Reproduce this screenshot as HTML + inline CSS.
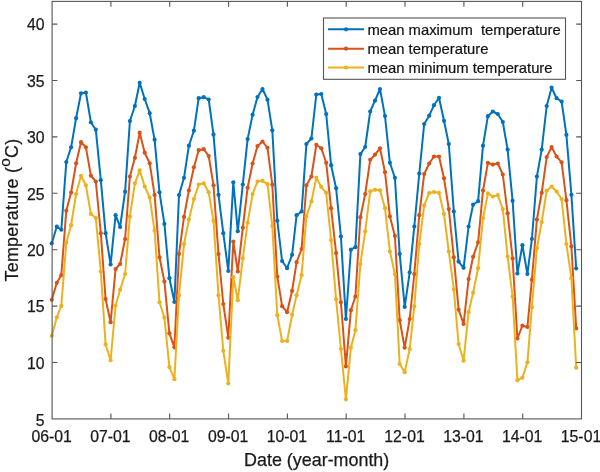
<!DOCTYPE html><html><head><meta charset="utf-8"><title>Temperature chart</title><style>html,body{margin:0;padding:0;background:#fff}</style></head><body><svg width="600" height="472" viewBox="0 0 600 472" style="display:block;font-family:'Liberation Sans',Arial,sans-serif">
<rect width="600" height="472" fill="#fff"/>
<g>
<polyline fill="none" stroke="#0072BD" stroke-width="2" stroke-linejoin="round" points="51.8,243.3 56.8,226.5 61.3,229.7 66.3,162.0 71.1,147.3 76.1,118.2 81.0,93.3 85.9,92.5 90.9,122.3 95.8,129.7 100.8,180.2 105.6,233.2 110.6,264.5 115.6,215.2 120.1,227.0 125.1,191.7 129.9,121.0 134.9,106.0 139.7,82.8 144.7,99.0 149.7,113.2 154.6,139.7 159.5,192.3 164.4,223.9 169.4,278.2 174.4,302.0 179.0,195.1 184.0,177.8 188.9,145.7 193.9,130.7 198.7,98.2 203.7,97.2 208.7,99.5 213.5,134.6 218.5,194.8 223.3,233.2 228.3,271.0 233.3,182.3 237.8,231.2 242.8,184.5 247.6,139.1 252.6,114.7 257.5,97.0 262.5,89.0 267.5,99.7 272.3,130.3 277.3,220.7 282.1,261.0 287.1,268.2 292.1,254.8 296.6,215.2 301.6,211.5 306.4,144.0 311.4,138.5 316.3,94.5 321.3,94.0 326.2,114.0 331.1,165.2 336.1,188.2 340.9,236.5 345.9,319.0 350.9,249.7 355.4,247.2 360.4,154.1 365.2,147.0 370.2,111.5 375.0,100.7 380.0,89.0 385.0,116.1 389.9,162.8 394.9,177.8 399.7,254.0 404.7,306.9 409.7,272.3 414.3,226.5 419.3,173.5 424.2,124.0 429.2,115.7 434.0,105.2 439.0,97.8 444.0,120.8 448.8,144.0 453.8,211.5 458.6,261.6 463.6,267.8 468.6,226.5 473.1,204.7 478.1,201.2 483.0,145.7 487.9,116.2 492.8,111.5 497.8,114.0 502.8,122.0 507.6,149.6 512.6,200.8 517.4,273.5 522.4,245.2 527.4,274.0 531.9,239.0 536.9,176.5 541.7,149.6 546.7,106.0 551.6,87.7 556.6,98.2 561.6,101.5 566.4,134.8 571.4,194.8 576.2,268.5"/><g fill="#0072BD"><circle cx="51.8" cy="243.3" r="2.1"/><circle cx="56.8" cy="226.5" r="2.1"/><circle cx="61.3" cy="229.7" r="2.1"/><circle cx="66.3" cy="162.0" r="2.1"/><circle cx="71.1" cy="147.3" r="2.1"/><circle cx="76.1" cy="118.2" r="2.1"/><circle cx="81.0" cy="93.3" r="2.1"/><circle cx="85.9" cy="92.5" r="2.1"/><circle cx="90.9" cy="122.3" r="2.1"/><circle cx="95.8" cy="129.7" r="2.1"/><circle cx="100.8" cy="180.2" r="2.1"/><circle cx="105.6" cy="233.2" r="2.1"/><circle cx="110.6" cy="264.5" r="2.1"/><circle cx="115.6" cy="215.2" r="2.1"/><circle cx="120.1" cy="227.0" r="2.1"/><circle cx="125.1" cy="191.7" r="2.1"/><circle cx="129.9" cy="121.0" r="2.1"/><circle cx="134.9" cy="106.0" r="2.1"/><circle cx="139.7" cy="82.8" r="2.1"/><circle cx="144.7" cy="99.0" r="2.1"/><circle cx="149.7" cy="113.2" r="2.1"/><circle cx="154.6" cy="139.7" r="2.1"/><circle cx="159.5" cy="192.3" r="2.1"/><circle cx="164.4" cy="223.9" r="2.1"/><circle cx="169.4" cy="278.2" r="2.1"/><circle cx="174.4" cy="302.0" r="2.1"/><circle cx="179.0" cy="195.1" r="2.1"/><circle cx="184.0" cy="177.8" r="2.1"/><circle cx="188.9" cy="145.7" r="2.1"/><circle cx="193.9" cy="130.7" r="2.1"/><circle cx="198.7" cy="98.2" r="2.1"/><circle cx="203.7" cy="97.2" r="2.1"/><circle cx="208.7" cy="99.5" r="2.1"/><circle cx="213.5" cy="134.6" r="2.1"/><circle cx="218.5" cy="194.8" r="2.1"/><circle cx="223.3" cy="233.2" r="2.1"/><circle cx="228.3" cy="271.0" r="2.1"/><circle cx="233.3" cy="182.3" r="2.1"/><circle cx="237.8" cy="231.2" r="2.1"/><circle cx="242.8" cy="184.5" r="2.1"/><circle cx="247.6" cy="139.1" r="2.1"/><circle cx="252.6" cy="114.7" r="2.1"/><circle cx="257.5" cy="97.0" r="2.1"/><circle cx="262.5" cy="89.0" r="2.1"/><circle cx="267.5" cy="99.7" r="2.1"/><circle cx="272.3" cy="130.3" r="2.1"/><circle cx="277.3" cy="220.7" r="2.1"/><circle cx="282.1" cy="261.0" r="2.1"/><circle cx="287.1" cy="268.2" r="2.1"/><circle cx="292.1" cy="254.8" r="2.1"/><circle cx="296.6" cy="215.2" r="2.1"/><circle cx="301.6" cy="211.5" r="2.1"/><circle cx="306.4" cy="144.0" r="2.1"/><circle cx="311.4" cy="138.5" r="2.1"/><circle cx="316.3" cy="94.5" r="2.1"/><circle cx="321.3" cy="94.0" r="2.1"/><circle cx="326.2" cy="114.0" r="2.1"/><circle cx="331.1" cy="165.2" r="2.1"/><circle cx="336.1" cy="188.2" r="2.1"/><circle cx="340.9" cy="236.5" r="2.1"/><circle cx="345.9" cy="319.0" r="2.1"/><circle cx="350.9" cy="249.7" r="2.1"/><circle cx="355.4" cy="247.2" r="2.1"/><circle cx="360.4" cy="154.1" r="2.1"/><circle cx="365.2" cy="147.0" r="2.1"/><circle cx="370.2" cy="111.5" r="2.1"/><circle cx="375.0" cy="100.7" r="2.1"/><circle cx="380.0" cy="89.0" r="2.1"/><circle cx="385.0" cy="116.1" r="2.1"/><circle cx="389.9" cy="162.8" r="2.1"/><circle cx="394.9" cy="177.8" r="2.1"/><circle cx="399.7" cy="254.0" r="2.1"/><circle cx="404.7" cy="306.9" r="2.1"/><circle cx="409.7" cy="272.3" r="2.1"/><circle cx="414.3" cy="226.5" r="2.1"/><circle cx="419.3" cy="173.5" r="2.1"/><circle cx="424.2" cy="124.0" r="2.1"/><circle cx="429.2" cy="115.7" r="2.1"/><circle cx="434.0" cy="105.2" r="2.1"/><circle cx="439.0" cy="97.8" r="2.1"/><circle cx="444.0" cy="120.8" r="2.1"/><circle cx="448.8" cy="144.0" r="2.1"/><circle cx="453.8" cy="211.5" r="2.1"/><circle cx="458.6" cy="261.6" r="2.1"/><circle cx="463.6" cy="267.8" r="2.1"/><circle cx="468.6" cy="226.5" r="2.1"/><circle cx="473.1" cy="204.7" r="2.1"/><circle cx="478.1" cy="201.2" r="2.1"/><circle cx="483.0" cy="145.7" r="2.1"/><circle cx="487.9" cy="116.2" r="2.1"/><circle cx="492.8" cy="111.5" r="2.1"/><circle cx="497.8" cy="114.0" r="2.1"/><circle cx="502.8" cy="122.0" r="2.1"/><circle cx="507.6" cy="149.6" r="2.1"/><circle cx="512.6" cy="200.8" r="2.1"/><circle cx="517.4" cy="273.5" r="2.1"/><circle cx="522.4" cy="245.2" r="2.1"/><circle cx="527.4" cy="274.0" r="2.1"/><circle cx="531.9" cy="239.0" r="2.1"/><circle cx="536.9" cy="176.5" r="2.1"/><circle cx="541.7" cy="149.6" r="2.1"/><circle cx="546.7" cy="106.0" r="2.1"/><circle cx="551.6" cy="87.7" r="2.1"/><circle cx="556.6" cy="98.2" r="2.1"/><circle cx="561.6" cy="101.5" r="2.1"/><circle cx="566.4" cy="134.8" r="2.1"/><circle cx="571.4" cy="194.8" r="2.1"/><circle cx="576.2" cy="268.5" r="2.1"/></g>
<polyline fill="none" stroke="#D95319" stroke-width="2" stroke-linejoin="round" points="51.8,299.8 56.8,282.8 61.3,275.2 66.3,210.7 71.1,192.5 76.1,163.3 81.0,142.2 85.9,147.3 90.9,175.7 95.8,181.5 100.8,233.2 105.6,299.0 110.6,322.2 115.6,269.0 120.1,264.0 125.1,239.0 129.9,176.5 134.9,157.8 139.7,132.7 144.7,152.7 149.7,163.3 154.6,194.9 159.5,257.3 164.4,281.5 169.4,333.3 174.4,347.3 179.0,253.9 184.0,216.9 188.9,190.4 193.9,167.3 198.7,150.2 203.7,149.2 208.7,156.0 213.5,185.3 218.5,254.0 223.3,304.0 228.3,337.7 233.3,241.5 237.8,271.5 242.8,227.7 247.6,187.8 252.6,163.5 257.5,146.1 262.5,141.5 267.5,147.8 272.3,184.7 277.3,276.6 282.1,306.2 287.1,312.2 292.1,290.8 296.6,262.2 301.6,249.0 306.4,185.3 311.4,176.5 316.3,144.8 321.3,148.3 326.2,162.8 331.1,208.2 336.1,253.0 340.9,302.3 345.9,366.4 350.9,310.2 355.4,296.5 360.4,217.2 365.2,194.0 370.2,159.8 375.0,154.7 380.0,148.3 385.0,172.2 389.9,216.4 394.9,235.9 399.7,320.2 404.7,347.7 409.7,319.0 414.3,274.0 419.3,215.2 424.2,174.0 429.2,163.5 434.0,156.5 439.0,156.5 444.0,178.3 448.8,209.0 453.8,257.3 458.6,309.7 463.6,323.9 468.6,279.0 473.1,256.8 478.1,242.3 483.0,190.6 487.9,162.8 492.8,164.6 497.8,163.5 502.8,174.5 507.6,213.3 512.6,258.5 517.4,338.5 522.4,325.7 527.4,327.0 531.9,279.7 536.9,219.5 541.7,192.8 546.7,157.1 551.6,147.0 556.6,156.5 561.6,162.3 566.4,200.2 571.4,246.4 576.2,328.4"/><g fill="#D95319"><circle cx="51.8" cy="299.8" r="2.1"/><circle cx="56.8" cy="282.8" r="2.1"/><circle cx="61.3" cy="275.2" r="2.1"/><circle cx="66.3" cy="210.7" r="2.1"/><circle cx="71.1" cy="192.5" r="2.1"/><circle cx="76.1" cy="163.3" r="2.1"/><circle cx="81.0" cy="142.2" r="2.1"/><circle cx="85.9" cy="147.3" r="2.1"/><circle cx="90.9" cy="175.7" r="2.1"/><circle cx="95.8" cy="181.5" r="2.1"/><circle cx="100.8" cy="233.2" r="2.1"/><circle cx="105.6" cy="299.0" r="2.1"/><circle cx="110.6" cy="322.2" r="2.1"/><circle cx="115.6" cy="269.0" r="2.1"/><circle cx="120.1" cy="264.0" r="2.1"/><circle cx="125.1" cy="239.0" r="2.1"/><circle cx="129.9" cy="176.5" r="2.1"/><circle cx="134.9" cy="157.8" r="2.1"/><circle cx="139.7" cy="132.7" r="2.1"/><circle cx="144.7" cy="152.7" r="2.1"/><circle cx="149.7" cy="163.3" r="2.1"/><circle cx="154.6" cy="194.9" r="2.1"/><circle cx="159.5" cy="257.3" r="2.1"/><circle cx="164.4" cy="281.5" r="2.1"/><circle cx="169.4" cy="333.3" r="2.1"/><circle cx="174.4" cy="347.3" r="2.1"/><circle cx="179.0" cy="253.9" r="2.1"/><circle cx="184.0" cy="216.9" r="2.1"/><circle cx="188.9" cy="190.4" r="2.1"/><circle cx="193.9" cy="167.3" r="2.1"/><circle cx="198.7" cy="150.2" r="2.1"/><circle cx="203.7" cy="149.2" r="2.1"/><circle cx="208.7" cy="156.0" r="2.1"/><circle cx="213.5" cy="185.3" r="2.1"/><circle cx="218.5" cy="254.0" r="2.1"/><circle cx="223.3" cy="304.0" r="2.1"/><circle cx="228.3" cy="337.7" r="2.1"/><circle cx="233.3" cy="241.5" r="2.1"/><circle cx="237.8" cy="271.5" r="2.1"/><circle cx="242.8" cy="227.7" r="2.1"/><circle cx="247.6" cy="187.8" r="2.1"/><circle cx="252.6" cy="163.5" r="2.1"/><circle cx="257.5" cy="146.1" r="2.1"/><circle cx="262.5" cy="141.5" r="2.1"/><circle cx="267.5" cy="147.8" r="2.1"/><circle cx="272.3" cy="184.7" r="2.1"/><circle cx="277.3" cy="276.6" r="2.1"/><circle cx="282.1" cy="306.2" r="2.1"/><circle cx="287.1" cy="312.2" r="2.1"/><circle cx="292.1" cy="290.8" r="2.1"/><circle cx="296.6" cy="262.2" r="2.1"/><circle cx="301.6" cy="249.0" r="2.1"/><circle cx="306.4" cy="185.3" r="2.1"/><circle cx="311.4" cy="176.5" r="2.1"/><circle cx="316.3" cy="144.8" r="2.1"/><circle cx="321.3" cy="148.3" r="2.1"/><circle cx="326.2" cy="162.8" r="2.1"/><circle cx="331.1" cy="208.2" r="2.1"/><circle cx="336.1" cy="253.0" r="2.1"/><circle cx="340.9" cy="302.3" r="2.1"/><circle cx="345.9" cy="366.4" r="2.1"/><circle cx="350.9" cy="310.2" r="2.1"/><circle cx="355.4" cy="296.5" r="2.1"/><circle cx="360.4" cy="217.2" r="2.1"/><circle cx="365.2" cy="194.0" r="2.1"/><circle cx="370.2" cy="159.8" r="2.1"/><circle cx="375.0" cy="154.7" r="2.1"/><circle cx="380.0" cy="148.3" r="2.1"/><circle cx="385.0" cy="172.2" r="2.1"/><circle cx="389.9" cy="216.4" r="2.1"/><circle cx="394.9" cy="235.9" r="2.1"/><circle cx="399.7" cy="320.2" r="2.1"/><circle cx="404.7" cy="347.7" r="2.1"/><circle cx="409.7" cy="319.0" r="2.1"/><circle cx="414.3" cy="274.0" r="2.1"/><circle cx="419.3" cy="215.2" r="2.1"/><circle cx="424.2" cy="174.0" r="2.1"/><circle cx="429.2" cy="163.5" r="2.1"/><circle cx="434.0" cy="156.5" r="2.1"/><circle cx="439.0" cy="156.5" r="2.1"/><circle cx="444.0" cy="178.3" r="2.1"/><circle cx="448.8" cy="209.0" r="2.1"/><circle cx="453.8" cy="257.3" r="2.1"/><circle cx="458.6" cy="309.7" r="2.1"/><circle cx="463.6" cy="323.9" r="2.1"/><circle cx="468.6" cy="279.0" r="2.1"/><circle cx="473.1" cy="256.8" r="2.1"/><circle cx="478.1" cy="242.3" r="2.1"/><circle cx="483.0" cy="190.6" r="2.1"/><circle cx="487.9" cy="162.8" r="2.1"/><circle cx="492.8" cy="164.6" r="2.1"/><circle cx="497.8" cy="163.5" r="2.1"/><circle cx="502.8" cy="174.5" r="2.1"/><circle cx="507.6" cy="213.3" r="2.1"/><circle cx="512.6" cy="258.5" r="2.1"/><circle cx="517.4" cy="338.5" r="2.1"/><circle cx="522.4" cy="325.7" r="2.1"/><circle cx="527.4" cy="327.0" r="2.1"/><circle cx="531.9" cy="279.7" r="2.1"/><circle cx="536.9" cy="219.5" r="2.1"/><circle cx="541.7" cy="192.8" r="2.1"/><circle cx="546.7" cy="157.1" r="2.1"/><circle cx="551.6" cy="147.0" r="2.1"/><circle cx="556.6" cy="156.5" r="2.1"/><circle cx="561.6" cy="162.3" r="2.1"/><circle cx="566.4" cy="200.2" r="2.1"/><circle cx="571.4" cy="246.4" r="2.1"/><circle cx="576.2" cy="328.4" r="2.1"/></g>
<polyline fill="none" stroke="#EDB120" stroke-width="2" stroke-linejoin="round" points="51.8,335.8 56.8,317.3 61.3,305.9 66.3,242.7 71.1,225.2 76.1,194.0 81.0,175.8 85.9,185.3 90.9,214.0 95.8,217.8 100.8,271.5 105.6,344.4 110.6,360.2 115.6,305.5 120.1,289.7 125.1,274.0 129.9,216.4 134.9,183.3 139.7,170.3 144.7,186.5 149.7,197.5 154.6,230.6 159.5,302.3 164.4,317.7 169.4,367.2 174.4,379.2 179.0,295.4 184.0,244.2 188.9,219.6 193.9,199.1 198.7,184.5 203.7,183.3 208.7,192.3 213.5,220.8 218.5,295.3 223.3,350.8 228.3,383.5 233.3,277.2 237.8,300.2 242.8,258.3 247.6,222.8 252.6,194.0 257.5,181.5 262.5,180.8 267.5,184.1 272.3,226.0 277.3,315.2 282.1,341.0 287.1,341.0 292.1,314.7 296.6,295.3 301.6,275.2 306.4,216.4 311.4,201.4 316.3,177.8 321.3,186.9 326.2,192.8 331.1,240.2 336.1,299.2 340.9,349.0 345.9,399.3 350.9,347.7 355.4,330.2 360.4,264.0 365.2,231.4 370.2,191.3 375.0,189.8 380.0,190.3 385.0,208.2 389.9,251.5 394.9,274.0 399.7,364.0 404.7,372.2 409.7,349.0 414.3,306.4 419.3,244.0 424.2,205.3 429.2,193.0 434.0,192.0 439.0,192.8 444.0,214.0 448.8,251.5 453.8,289.3 458.6,344.0 463.6,360.7 468.6,312.2 473.1,292.8 478.1,268.2 483.0,218.2 487.9,193.4 492.8,196.5 497.8,195.2 502.8,209.0 507.6,256.5 512.6,296.5 517.4,380.2 522.4,377.7 527.4,362.3 531.9,307.2 536.9,248.2 541.7,222.0 546.7,190.7 551.6,186.5 556.6,191.5 561.6,199.0 566.4,244.0 571.4,278.2 576.2,367.7"/><g fill="#EDB120"><circle cx="51.8" cy="335.8" r="2.1"/><circle cx="56.8" cy="317.3" r="2.1"/><circle cx="61.3" cy="305.9" r="2.1"/><circle cx="66.3" cy="242.7" r="2.1"/><circle cx="71.1" cy="225.2" r="2.1"/><circle cx="76.1" cy="194.0" r="2.1"/><circle cx="81.0" cy="175.8" r="2.1"/><circle cx="85.9" cy="185.3" r="2.1"/><circle cx="90.9" cy="214.0" r="2.1"/><circle cx="95.8" cy="217.8" r="2.1"/><circle cx="100.8" cy="271.5" r="2.1"/><circle cx="105.6" cy="344.4" r="2.1"/><circle cx="110.6" cy="360.2" r="2.1"/><circle cx="115.6" cy="305.5" r="2.1"/><circle cx="120.1" cy="289.7" r="2.1"/><circle cx="125.1" cy="274.0" r="2.1"/><circle cx="129.9" cy="216.4" r="2.1"/><circle cx="134.9" cy="183.3" r="2.1"/><circle cx="139.7" cy="170.3" r="2.1"/><circle cx="144.7" cy="186.5" r="2.1"/><circle cx="149.7" cy="197.5" r="2.1"/><circle cx="154.6" cy="230.6" r="2.1"/><circle cx="159.5" cy="302.3" r="2.1"/><circle cx="164.4" cy="317.7" r="2.1"/><circle cx="169.4" cy="367.2" r="2.1"/><circle cx="174.4" cy="379.2" r="2.1"/><circle cx="179.0" cy="295.4" r="2.1"/><circle cx="184.0" cy="244.2" r="2.1"/><circle cx="188.9" cy="219.6" r="2.1"/><circle cx="193.9" cy="199.1" r="2.1"/><circle cx="198.7" cy="184.5" r="2.1"/><circle cx="203.7" cy="183.3" r="2.1"/><circle cx="208.7" cy="192.3" r="2.1"/><circle cx="213.5" cy="220.8" r="2.1"/><circle cx="218.5" cy="295.3" r="2.1"/><circle cx="223.3" cy="350.8" r="2.1"/><circle cx="228.3" cy="383.5" r="2.1"/><circle cx="233.3" cy="277.2" r="2.1"/><circle cx="237.8" cy="300.2" r="2.1"/><circle cx="242.8" cy="258.3" r="2.1"/><circle cx="247.6" cy="222.8" r="2.1"/><circle cx="252.6" cy="194.0" r="2.1"/><circle cx="257.5" cy="181.5" r="2.1"/><circle cx="262.5" cy="180.8" r="2.1"/><circle cx="267.5" cy="184.1" r="2.1"/><circle cx="272.3" cy="226.0" r="2.1"/><circle cx="277.3" cy="315.2" r="2.1"/><circle cx="282.1" cy="341.0" r="2.1"/><circle cx="287.1" cy="341.0" r="2.1"/><circle cx="292.1" cy="314.7" r="2.1"/><circle cx="296.6" cy="295.3" r="2.1"/><circle cx="301.6" cy="275.2" r="2.1"/><circle cx="306.4" cy="216.4" r="2.1"/><circle cx="311.4" cy="201.4" r="2.1"/><circle cx="316.3" cy="177.8" r="2.1"/><circle cx="321.3" cy="186.9" r="2.1"/><circle cx="326.2" cy="192.8" r="2.1"/><circle cx="331.1" cy="240.2" r="2.1"/><circle cx="336.1" cy="299.2" r="2.1"/><circle cx="340.9" cy="349.0" r="2.1"/><circle cx="345.9" cy="399.3" r="2.1"/><circle cx="350.9" cy="347.7" r="2.1"/><circle cx="355.4" cy="330.2" r="2.1"/><circle cx="360.4" cy="264.0" r="2.1"/><circle cx="365.2" cy="231.4" r="2.1"/><circle cx="370.2" cy="191.3" r="2.1"/><circle cx="375.0" cy="189.8" r="2.1"/><circle cx="380.0" cy="190.3" r="2.1"/><circle cx="385.0" cy="208.2" r="2.1"/><circle cx="389.9" cy="251.5" r="2.1"/><circle cx="394.9" cy="274.0" r="2.1"/><circle cx="399.7" cy="364.0" r="2.1"/><circle cx="404.7" cy="372.2" r="2.1"/><circle cx="409.7" cy="349.0" r="2.1"/><circle cx="414.3" cy="306.4" r="2.1"/><circle cx="419.3" cy="244.0" r="2.1"/><circle cx="424.2" cy="205.3" r="2.1"/><circle cx="429.2" cy="193.0" r="2.1"/><circle cx="434.0" cy="192.0" r="2.1"/><circle cx="439.0" cy="192.8" r="2.1"/><circle cx="444.0" cy="214.0" r="2.1"/><circle cx="448.8" cy="251.5" r="2.1"/><circle cx="453.8" cy="289.3" r="2.1"/><circle cx="458.6" cy="344.0" r="2.1"/><circle cx="463.6" cy="360.7" r="2.1"/><circle cx="468.6" cy="312.2" r="2.1"/><circle cx="473.1" cy="292.8" r="2.1"/><circle cx="478.1" cy="268.2" r="2.1"/><circle cx="483.0" cy="218.2" r="2.1"/><circle cx="487.9" cy="193.4" r="2.1"/><circle cx="492.8" cy="196.5" r="2.1"/><circle cx="497.8" cy="195.2" r="2.1"/><circle cx="502.8" cy="209.0" r="2.1"/><circle cx="507.6" cy="256.5" r="2.1"/><circle cx="512.6" cy="296.5" r="2.1"/><circle cx="517.4" cy="380.2" r="2.1"/><circle cx="522.4" cy="377.7" r="2.1"/><circle cx="527.4" cy="362.3" r="2.1"/><circle cx="531.9" cy="307.2" r="2.1"/><circle cx="536.9" cy="248.2" r="2.1"/><circle cx="541.7" cy="222.0" r="2.1"/><circle cx="546.7" cy="190.7" r="2.1"/><circle cx="551.6" cy="186.5" r="2.1"/><circle cx="556.6" cy="191.5" r="2.1"/><circle cx="561.6" cy="199.0" r="2.1"/><circle cx="566.4" cy="244.0" r="2.1"/><circle cx="571.4" cy="278.2" r="2.1"/><circle cx="576.2" cy="367.7" r="2.1"/></g>
</g>
<g stroke="#555" stroke-width="1.1" fill="none">
<rect x="52.1" y="1.4" width="529.4" height="417.5"/>
<path d="M110.9 418.9v-5.3M110.9 1.4v5.3"/>
<path d="M169.7 418.9v-5.3M169.7 1.4v5.3"/>
<path d="M228.6 418.9v-5.3M228.6 1.4v5.3"/>
<path d="M287.4 418.9v-5.3M287.4 1.4v5.3"/>
<path d="M346.2 418.9v-5.3M346.2 1.4v5.3"/>
<path d="M405.0 418.9v-5.3M405.0 1.4v5.3"/>
<path d="M463.9 418.9v-5.3M463.9 1.4v5.3"/>
<path d="M522.7 418.9v-5.3M522.7 1.4v5.3"/>
<path d="M52.1 362.5h5.3M581.5 362.5h-5.3"/>
<path d="M52.1 306.1h5.3M581.5 306.1h-5.3"/>
<path d="M52.1 249.7h5.3M581.5 249.7h-5.3"/>
<path d="M52.1 193.3h5.3M581.5 193.3h-5.3"/>
<path d="M52.1 136.9h5.3M581.5 136.9h-5.3"/>
<path d="M52.1 80.5h5.3M581.5 80.5h-5.3"/>
<path d="M52.1 24.1h5.3M581.5 24.1h-5.3"/>
</g>
<g fill="#1a1a1a" stroke="#1a1a1a" stroke-width="0.25" font-size="15.8px">
<text x="51.6" y="442.2" text-anchor="middle">06-01</text>
<text x="110.4" y="442.2" text-anchor="middle">07-01</text>
<text x="169.2" y="442.2" text-anchor="middle">08-01</text>
<text x="228.1" y="442.2" text-anchor="middle">09-01</text>
<text x="286.9" y="442.2" text-anchor="middle">10-01</text>
<text x="345.7" y="442.2" text-anchor="middle">11-01</text>
<text x="404.5" y="442.2" text-anchor="middle">12-01</text>
<text x="463.4" y="442.2" text-anchor="middle">13-01</text>
<text x="522.2" y="442.2" text-anchor="middle">14-01</text>
<text x="581.0" y="442.2" text-anchor="middle">15-01</text>
<text x="44.6" y="426.0" text-anchor="end">5</text>
<text x="44.6" y="368.8" text-anchor="end">10</text>
<text x="44.6" y="312.4" text-anchor="end">15</text>
<text x="44.6" y="256.0" text-anchor="end">20</text>
<text x="44.6" y="199.6" text-anchor="end">25</text>
<text x="44.6" y="143.2" text-anchor="end">30</text>
<text x="44.6" y="86.8" text-anchor="end">35</text>
<text x="44.6" y="30.4" text-anchor="end">40</text>
</g>
<g fill="#1a1a1a" stroke="#1a1a1a" stroke-width="0.25" font-size="17.9px">
<text x="316.7" y="465.5" text-anchor="middle">Date (year-month)</text>
<text transform="translate(17.8,210) rotate(-90)" text-anchor="middle" letter-spacing="0.25">Temperature (<tspan font-size="15.5px" dy="-8">o</tspan><tspan dy="8">C)</tspan></text>
</g>
<rect x="323.5" y="18" width="242" height="61.3" fill="#fff" stroke="#555" stroke-width="1.1"/>
<path d="M328 29.3H364" stroke="#0072BD" stroke-width="2" fill="none"/><circle cx="346" cy="29.3" r="2.1" fill="#0072BD"/>
<text x="367.5" y="34.5" font-size="14.8px" fill="#111" stroke="#111" stroke-width="0.2" xml:space="preserve">mean maximum  temperature</text>
<path d="M328 48.7H364" stroke="#D95319" stroke-width="2" fill="none"/><circle cx="346" cy="48.7" r="2.1" fill="#D95319"/>
<text x="367.5" y="53.9" font-size="14.8px" fill="#111" stroke="#111" stroke-width="0.2" xml:space="preserve">mean temperature</text>
<path d="M328 67.6H364" stroke="#EDB120" stroke-width="2" fill="none"/><circle cx="346" cy="67.6" r="2.1" fill="#EDB120"/>
<text x="367.5" y="72.8" font-size="14.8px" fill="#111" stroke="#111" stroke-width="0.2" xml:space="preserve">mean minimum temperature</text>
</svg></body></html>
